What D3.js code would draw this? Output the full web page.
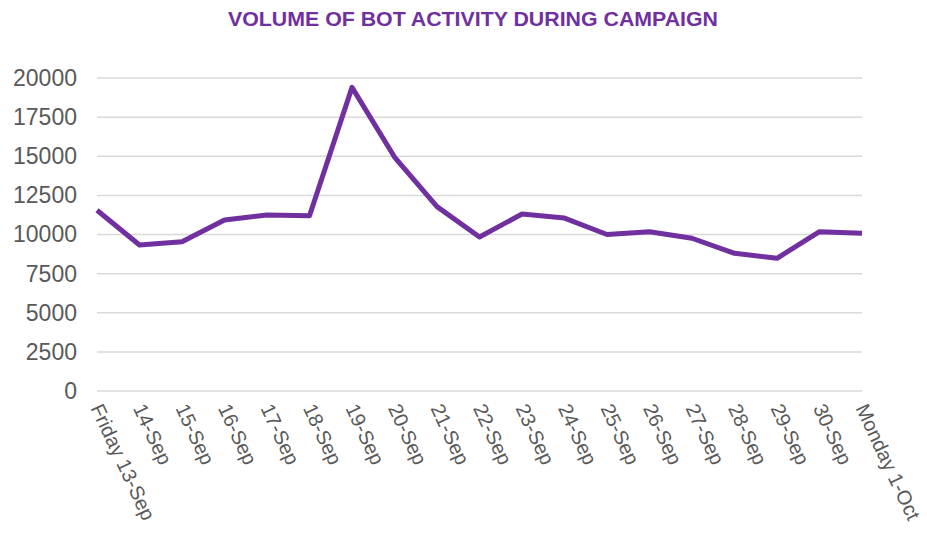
<!DOCTYPE html>
<html>
<head>
<meta charset="utf-8">
<script src="https://cdn.jsdelivr.net/npm/d3@7"></script>
<style>
  body { margin: 0; background: #fff; }
  #graf { width: 927px; height: 534px; }
</style>
</head>
<body>
<div id="graf"></div>
<script>
// Datos
const fechas = ["Friday 13-Sep", "14-Sep", "15-Sep", "16-Sep", "17-Sep", "18-Sep", "19-Sep",
  "20-Sep", "21-Sep", "22-Sep", "23-Sep", "24-Sep", "25-Sep", "26-Sep", "27-Sep",
  "28-Sep", "29-Sep", "30-Sep", "Monday 1-Oct"]
const volumen = [11550, 9330, 9540, 10930, 11250, 11200, 19400, 14950, 11780, 9840,
  11310, 11050, 10000, 10180, 9760, 8800, 8480, 10180, 10080]
const ticksY = [0, 2500, 5000, 7500, 10000, 12500, 15000, 17500, 20000]
const titulo = "VOLUME OF BOT ACTIVITY DURING CAMPAIGN"

const draw = (el) => {
  const graf = d3.select(el)
  const anchoTotal = 927
  const altoTotal = 534
  const margin = { top: 78, right: 65, bottom: 143, left: 97 }
  const ancho = anchoTotal - margin.left - margin.right
  const alto = altoTotal - margin.top - margin.bottom

  const svg = graf
    .append("svg")
    .attr("width", anchoTotal)
    .attr("height", altoTotal)

  // Titulo
  svg
    .append("text")
    .attr("x", 473)
    .attr("y", 26)
    .attr("text-anchor", "middle")
    .attr("font-family", "Liberation Sans, Arial, sans-serif")
    .attr("font-weight", "bold")
    .attr("font-size", 20)
    .attr("textLength", 490)
    .attr("lengthAdjust", "spacingAndGlyphs")
    .attr("fill", "#7030A0")
    .text(titulo)

  const g = svg
    .append("g")
    .attr("transform", `translate(${margin.left}, ${margin.top})`)

  // Escaladores
  const x = d3.scalePoint().domain(fechas).range([0, ancho])
  const y = d3.scaleLinear().domain([0, 20000]).range([alto, 0])

  // Grilla
  g.append("g")
    .selectAll("line")
    .data(ticksY)
    .join("line")
    .attr("x1", 0)
    .attr("x2", ancho)
    .attr("y1", (d) => y(d))
    .attr("y2", (d) => y(d))
    .attr("stroke", "#d9d9d9")
    .attr("stroke-width", 1.5)

  // Eje Y
  const ejeY = g
    .append("g")
    .call(
      d3.axisLeft(y).tickValues(ticksY).tickFormat(d3.format("d")).tickSize(0).tickPadding(20)
    )
  ejeY.select(".domain").remove()
  ejeY
    .selectAll("text")
    .attr("font-family", "Liberation Sans, Arial, sans-serif")
    .attr("font-size", 23)
    .attr("fill", "#595959")

  // Eje X
  const ejeX = g
    .append("g")
    .attr("transform", `translate(0, ${alto})`)
    .call(d3.axisBottom(x).tickSize(0).tickPadding(0))
  ejeX.select(".domain").remove()
  ejeX
    .selectAll("text")
    .attr("font-family", "Liberation Sans, Arial, sans-serif")
    .attr("font-size", 20)
    .attr("fill", "#595959")
    .attr("text-anchor", "start")
    .attr("dy", "0.35em")
    .attr("transform", "translate(-1, 14) rotate(65)")

  // Linea
  const linea = d3
    .line()
    .x((d, i) => x(fechas[i]))
    .y((d) => y(d))

  g.append("path")
    .datum(volumen)
    .attr("d", linea)
    .attr("fill", "none")
    .attr("stroke", "#7030A0")
    .attr("stroke-width", 5)
    .attr("stroke-linejoin", "round")
}

draw("#graf")
</script>
</body>
</html>
